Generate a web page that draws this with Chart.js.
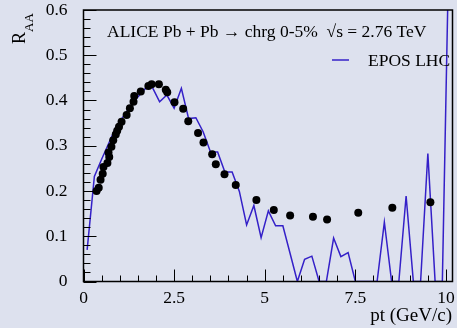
<!DOCTYPE html>
<html>
<head>
<meta charset="utf-8">
<script src="https://cdn.jsdelivr.net/npm/chart.js@4.4.1/dist/chart.umd.min.js"></script>
<style>
  html, body { margin: 0; padding: 0; background: #dde1ee; }
</style>
</head>
<body>
<canvas id="raa" width="457" height="328"></canvas>
<script>
// ALICE data points (pt, R_AA)
var alicePt  = [0.36, 0.42, 0.47, 0.53, 0.55, 0.66, 0.71, 0.69, 0.77, 0.82, 0.89, 0.93, 0.98, 1.05,
                1.19, 1.28, 1.38, 1.40, 1.58, 1.79, 1.88, 2.08, 2.27, 2.31, 2.51, 2.75, 2.89, 3.16,
                3.31, 3.55, 3.65, 3.89, 4.20, 4.77, 5.25, 5.70, 6.33, 6.72, 7.58, 8.52, 9.57];
var aliceRaa = [0.200, 0.207, 0.225, 0.238, 0.253, 0.262, 0.275, 0.285, 0.298, 0.312, 0.325, 0.333, 0.342, 0.353,
                0.368, 0.383, 0.397, 0.410, 0.420, 0.432, 0.436, 0.436, 0.424, 0.418, 0.396, 0.382, 0.354, 0.328,
                0.307, 0.281, 0.259, 0.237, 0.213, 0.180, 0.158, 0.146, 0.143, 0.137, 0.152, 0.163, 0.175];

// EPOS LHC curve
var eposPt  = [0.1, 0.3, 0.5, 0.7, 0.9, 1.1, 1.3, 1.5, 1.7, 1.9, 2.1, 2.3, 2.5, 2.7, 2.9, 3.1, 3.3, 3.5,
               3.7, 3.9, 4.1, 4.3, 4.5, 4.7, 4.9, 5.1, 5.3, 5.5, 5.7, 5.9, 6.1, 6.3, 6.5, 6.7, 6.9, 7.1,
               7.3, 7.5, 7.7, 7.9, 8.1, 8.3, 8.5, 8.7, 8.9, 9.1, 9.3, 9.5, 9.7, 9.9, 10.1];
var eposRaa = [0.070, 0.232, 0.270, 0.306, 0.342, 0.365, 0.388, 0.408, 0.426, 0.429, 0.397, 0.412, 0.383, 0.427,
               0.360, 0.362, 0.331, 0.287, 0.286, 0.242, 0.242, 0.199, 0.125, 0.168, 0.097, 0.156, 0.123, 0.123,
               0.062, 0, 0.049, 0.056, 0, 0, 0.096, 0.055, 0.064, 0, 0, 0, 0, 0.131, 0, 0, 0.189, 0, 0, 0.283,
               0, 0, 0.82];

var xTicks = [0, 2.5, 5, 7.5, 10];
var yTicks = [0, 0.1, 0.2, 0.3, 0.4, 0.5, 0.6];

var serif = '"Liberation Serif", "DejaVu Serif", serif';
var lineBlue = '#3420c8';

function pairs(xs, ys) {
  return xs.map(function (v, i) { return { x: v, y: ys[i] }; });
}

// frame, inner ticks and the texts drawn inside the pad
var frame = {
  id: 'frame',
  afterDraw: function (chart) {
    var ctx = chart.ctx, a = chart.chartArea, x = chart.scales.x, y = chart.scales.y;
    ctx.save();
    ctx.strokeStyle = '#000';
    ctx.lineWidth = 1.5;
    ctx.strokeRect(a.left, a.top, a.right - a.left, a.bottom - a.top);

    ctx.lineWidth = 1;
    ctx.beginPath();
    for (var i = 0; i <= 20; i++) {
      var px = Math.round(x.getPixelForValue(i * 0.5)) + 0.5;
      var len = i % 5 === 0 ? 12 : 6;
      ctx.moveTo(px, a.bottom);
      ctx.lineTo(px, a.bottom - len);
    }
    for (var j = 0; j <= 30; j++) {
      var py = Math.round(y.getPixelForValue(j * 0.02)) + 0.5;
      var l = j % 5 === 0 ? 13 : 7;
      ctx.moveTo(a.left, py);
      ctx.lineTo(a.left + l, py);
    }
    ctx.stroke();

    ctx.fillStyle = '#000';
    ctx.textBaseline = 'alphabetic';
    ctx.font = '17.5px ' + serif;
    ctx.textAlign = 'left';
    ctx.fillText('ALICE Pb + Pb \u2192 chrg 0-5%  \u221As = 2.76 TeV', 107, 37);

    // legend
    ctx.strokeStyle = lineBlue;
    ctx.lineWidth = 1.5;
    ctx.beginPath();
    ctx.moveTo(332, 60);
    ctx.lineTo(349, 60);
    ctx.stroke();
    ctx.fillText(chart.data.datasets[1].label, 368, 66);

    // x title
    ctx.textAlign = 'right';
    ctx.font = '19px ' + serif;
    ctx.fillText('pt (GeV/c)', 452, 321);

    // y title R_AA
    ctx.translate(25, 44);
    ctx.rotate(-Math.PI / 2);
    ctx.textAlign = 'left';
    ctx.font = '18px ' + serif;
    ctx.fillText('R', 0, 0);
    var w = ctx.measureText('R').width;
    ctx.font = '13px ' + serif;
    ctx.fillText('AA', w, 8);
    ctx.restore();
  }
};

var chart = new Chart(document.getElementById('raa'), {
  type: 'scatter',
  data: {
    datasets: [{
      label: 'ALICE',
      data: pairs(alicePt, aliceRaa),
      backgroundColor: '#000',
      borderColor: '#000',
      borderWidth: 0,
      pointRadius: 4,
      pointHoverRadius: 4,
      order: 1
    }, {
      label: 'EPOS LHC',
      data: pairs(eposPt, eposRaa),
      showLine: true,
      borderColor: lineBlue,
      borderWidth: 1.5,
      pointRadius: 0,
      fill: false,
      order: 2
    }]
  },
  options: {
    responsive: false,
    animation: false,
    events: [],
    layout: { padding: { top: 10, right: 4.5, left: 0, bottom: 0 } },
    plugins: { legend: { display: false }, tooltip: { enabled: false } },
    scales: {
      x: {
        type: 'linear',
        min: 0,
        max: 10.18,
        afterFit: function (s) { s.height = 46.5; s.paddingLeft = 0; s.paddingRight = 0; },
        afterBuildTicks: function (s) { s.ticks = xTicks.map(function (v) { return { value: v }; }); },
        grid: { display: false, drawTicks: false },
        border: { display: false },
        ticks: {
          padding: 6,
          color: '#000',
          maxRotation: 0,
          autoSkip: false,
          font: { family: serif, size: 17.5 },
          callback: function (v) { return String(v); }
        }
      },
      y: {
        type: 'linear',
        min: 0,
        max: 0.6,
        afterFit: function (s) { s.width = 83.5; s.paddingTop = 0; s.paddingBottom = 0; },
        afterBuildTicks: function (s) { s.ticks = yTicks.map(function (v) { return { value: v }; }); },
        grid: { display: false, drawTicks: false },
        border: { display: false },
        ticks: {
          padding: 16,
          color: '#000',
          autoSkip: false,
          font: { family: serif, size: 17.5 },
          callback: function (v) { return String(v); }
        }
      }
    }
  },
  plugins: [frame]
});
</script>
</body>
</html>
